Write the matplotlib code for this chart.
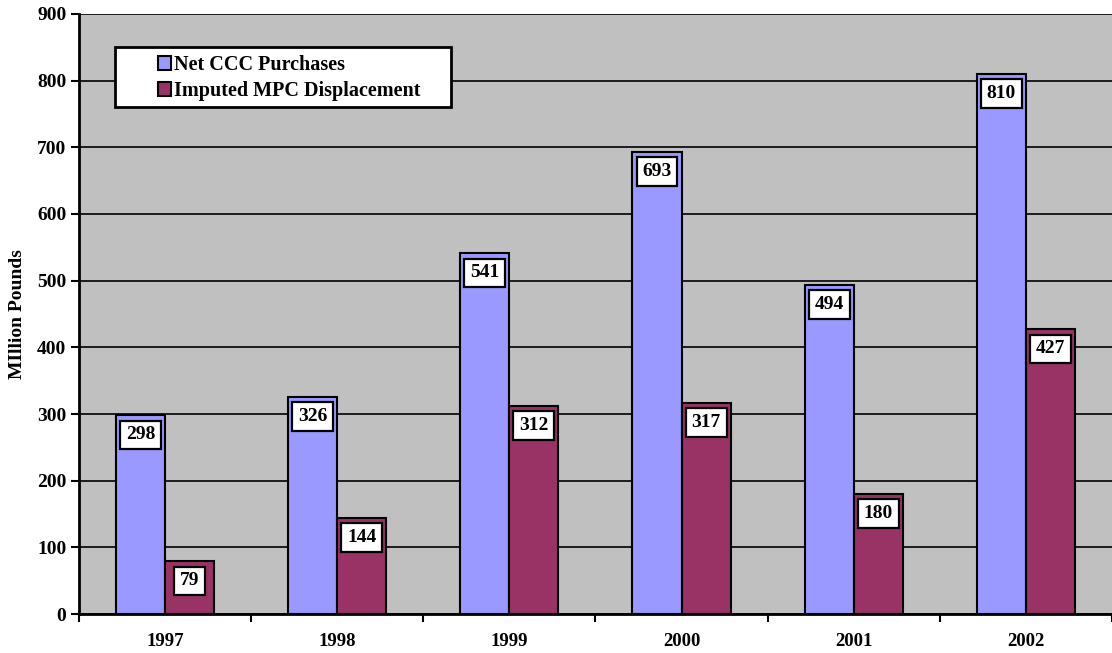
import matplotlib.pyplot as plt
from matplotlib.patches import Rectangle
import numpy as np

# Purchases vs. displacement, million pounds
years = ['1997', '1998', '1999', '2000', '2001', '2002']
net_ccc = [298, 326, 541, 693, 494, 810]
imputed_mpc = [79, 144, 312, 317, 180, 427]

plt.rcParams['font.family'] = 'Liberation Serif'
plt.rcParams['font.weight'] = 'bold'

fig = plt.figure(figsize=(11.12, 6.53), dpi=100)
ax = fig.add_axes([0.071, 0.0597, 0.929, 0.9189])
ax.set_facecolor('#C0C0C0')

x = np.arange(len(years))
w = 0.285
b1 = ax.bar(x - w, net_ccc, width=w, align='edge', color='#9999FF',
            edgecolor='black', linewidth=1.5, label='Net CCC Purchases', zorder=3)
b2 = ax.bar(x, imputed_mpc, width=w, align='edge', color='#993366',
            edgecolor='black', linewidth=1.5, label='Imputed MPC Displacement', zorder=3)

# value boxes just under the top of each bar
for bars, vals in ((b1, net_ccc), (b2, imputed_mpc)):
    for rect, v in zip(bars, vals):
        ax.annotate(str(v), (rect.get_x() + rect.get_width() / 2, v),
                    xytext=(0, -8), textcoords='offset points',
                    ha='center', va='top', fontsize=14, fontweight='bold',
                    bbox=dict(boxstyle='square,pad=0.3', fc='white', ec='black', lw=1.6),
                    zorder=5)

ax.set_xlim(-0.5, len(years) - 0.5)
ax.set_ylim(0, 900)
ax.set_yticks(range(0, 901, 100))
ax.yaxis.grid(True, color='black', linewidth=1.2, zorder=1)
ax.set_axisbelow(True)

# category ticks sit on group boundaries, labels centred under each group
ax.set_xticks(np.arange(-0.5, len(years), 1.0))
ax.set_xticklabels([])
ax.set_xticks(x, minor=True)
ax.set_xticklabels(years, minor=True)
ax.tick_params(axis='x', which='minor', length=0, pad=14, labelsize=13.5)
ax.tick_params(axis='x', which='major', length=6, width=1.5, direction='out')
ax.tick_params(axis='y', length=6, width=1.5, direction='out', labelsize=14, pad=3)

for s in ('top', 'right'):
    ax.spines[s].set_visible(False)
for s in ('left', 'bottom'):
    ax.spines[s].set_linewidth(2)
    ax.spines[s].set_zorder(4)

ax.set_ylabel('MIllion Pounds', fontsize=14, fontweight='bold', labelpad=8)

# legend with a wide white frame
ax.add_patch(Rectangle((0.035, 0.845), 0.325, 0.1, transform=ax.transAxes,
                       facecolor='white', edgecolor='black', linewidth=2, zorder=6))
leg = ax.legend(loc='upper left', bbox_to_anchor=(0.069, 0.945), frameon=False,
                fontsize=14.5, handlelength=0.65, handleheight=0.65,
                handletextpad=0.15, labelspacing=0.3, borderaxespad=0)
leg.set_zorder(7)
for h in leg.legend_handles:
    h.set_linewidth(1.5)

fig.savefig('out.png', dpi=100)
